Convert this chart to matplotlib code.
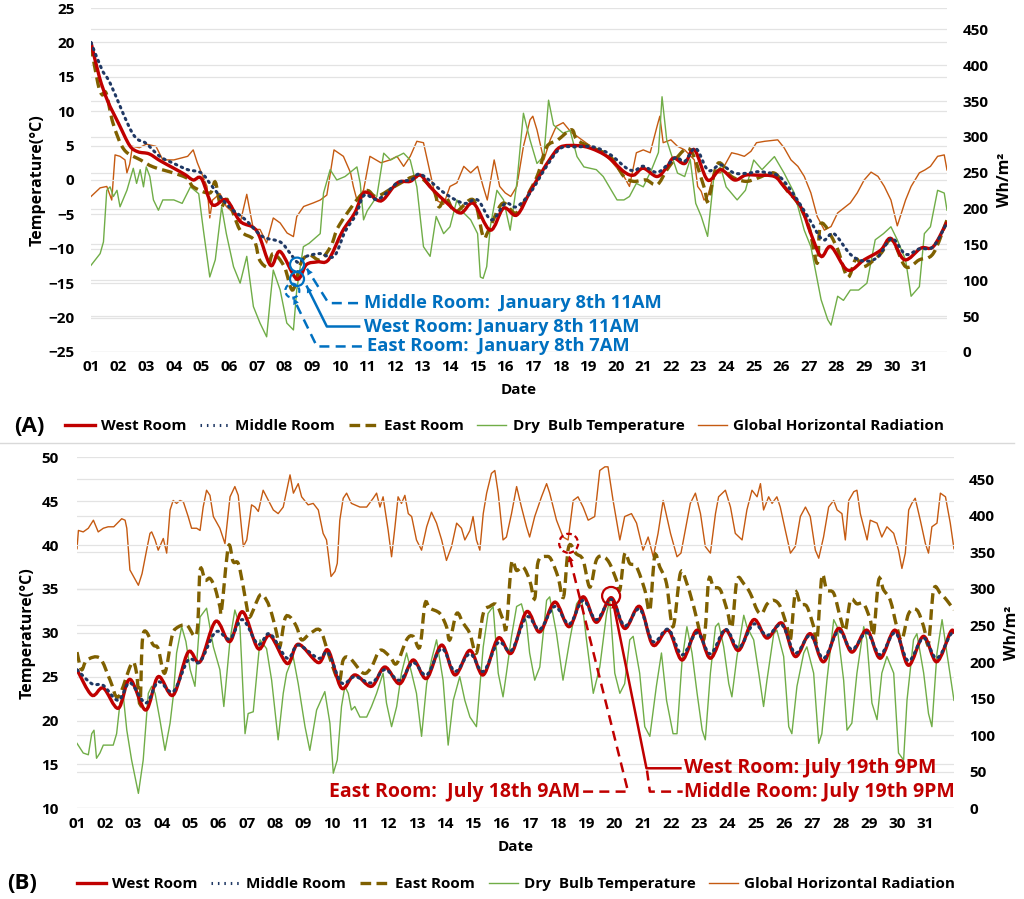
import numpy as np
import matplotlib
matplotlib.use("Agg")
import matplotlib.pyplot as plt
from matplotlib.path import Path
from matplotlib.patches import PathPatch, Circle
from matplotlib.lines import Line2D
from matplotlib.transforms import ScaledTranslation

plt.rcParams['font.family'] = ['Open Sans', 'DejaVu Sans']
plt.rcParams['font.weight'] = 'bold'
plt.rcParams['axes.labelweight'] = 'bold'

# ---- January (A): (day, value), day 0 = start of the 1st
jan_west = np.array([
    (0, 20), (0.3, 15), (0.6, 11.5), (1.0, 8.2), (1.4, 5), (1.7, 4.1), (2.1, 3.8), (2.5, 2.8),
    (3.0, 1.7), (3.4, 0.8), (3.7, 0.0), (4.0, 0.2), (4.4, -3.6), (4.9, -2.9), (5.4, -6.0),
    (6.0, -7.4), (6.5, -12.4), (6.85, -10.4), (7.45, -14.4), (7.8, -12.3), (8.2, -11.9),
    (8.6, -11.6), (9.1, -7.5), (9.55, -4.8), (9.9, -1.8), (10.35, -2.9), (10.6, -2.8),
    (11.1, -0.4), (11.56, -0.2), (11.92, 0.7), (12.28, -1.0), (12.77, -2.9), (13.37, -4.8),
    (13.85, -3.4), (14.46, -7.3), (14.94, -4.1), (15.42, -5.1), (15.9, -1.7), (16.3, 1.0),
    (16.65, 3.2), (17.0, 4.8), (17.6, 5.0), (18.1, 4.6), (18.7, 3.4), (19.3, 1.2), (19.65, 0.7),
    (20.0, 1.7), (20.5, 0.5), (20.86, 1.9), (21.1, 3.2), (21.5, 2.4), (21.85, 4.4), (22.33, 0),
    (22.8, 1.5), (23.3, 0), (23.7, 0.7), (24.1, 0.7), (24.75, 0.5), (25.1, -1), (25.7, -3.9),
    (26.07, -7.8), (26.44, -11.1), (26.8, -9.7), (27.4, -13.1), (28.0, -11.6), (28.6, -10.2),
    (28.97, -8.5), (29.46, -11.6), (30.06, -9.9), (30.5, -9.7), (31.0, -6.1)])

jan_middle = np.array([
    (0, 20), (0.4, 16), (0.7, 14), (1.5, 6.8), (2.0, 5.3), (2.5, 3.4), (3.0, 2.4), (3.5, 1.5),
    (4.0, 1.0), (4.4, -1.0), (5.0, -3.9), (5.6, -5.8), (6.2, -8.2), (6.85, -9.0), (7.2, -10.6),
    (7.5, -12.0), (7.8, -11.1), (8.3, -10.7), (8.8, -11.1), (9.2, -7.5), (9.6, -5), (9.9, -2.2),
    (10.4, -2.8), (11.1, -0.4), (11.6, 0), (11.95, 0.8), (12.8, -1.9), (13.5, -3.4), (14.0, -2.9),
    (14.5, -5.8), (15.0, -3.4), (15.4, -3.9), (15.9, -1.9), (16.5, 2), (17.0, 4.6), (17.6, 4.8),
    (18.2, 4.8), (18.8, 3.7), (19.4, 1.7), (19.7, 1.4), (20.0, 2.0), (20.5, 1.1), (20.9, 2.3),
    (21.2, 3.3), (21.5, 2.7), (21.9, 4.6), (22.35, 1.4), (22.8, 2.2), (23.3, 1.0), (23.8, 1.0),
    (24.2, 1.2), (24.8, 0.8), (25.1, -0.2), (25.5, -2.4), (26.0, -5.6), (26.5, -8.7), (26.9, -7.8),
    (27.5, -10.8), (28.0, -11.8), (28.5, -11.2), (29.0, -8.5), (29.5, -10.8), (30.0, -10.0),
    (30.5, -9.7), (31.0, -6.2)])

jan_east = np.array([
    (0, 19.5), (0.25, 14), (0.4, 12.4), (0.55, 12.6), (0.8, 8.2), (1.2, 4.4), (1.8, 2.9),
    (2.25, 1.9), (3.0, 1.0), (3.5, 0.2), (3.7, -1.0), (4.3, -1.9), (4.5, -0.3), (4.7, -3.9),
    (4.95, -2.9), (5.4, -7.3), (5.9, -8.7), (6.1, -11.6), (6.4, -12.6), (6.6, -10.7), (7.0, -12.6),
    (7.3, -16.0), (7.6, -12.1), (7.9, -10.9), (8.3, -11.6), (8.7, -9.5), (9.0, -6.5), (9.9, -1.7),
    (10.35, -2.4), (11.1, -0.7), (11.8, 0.5), (12.4, -1.5), (12.6, -3.9), (12.85, -2.5),
    (13.2, -4.6), (13.85, -2.9), (14.2, -8.2), (14.4, -7.3), (14.9, -3.4), (15.4, -4.8),
    (15.9, -1.5), (16.2, 1.0), (16.5, 4.8), (16.9, 5.8), (17.4, 7.3), (17.6, 5.8), (18.1, 4.8),
    (18.8, 3.4), (19.3, 0.5), (19.65, -0.2), (20.1, 0), (20.5, -0.7), (20.86, 1.5), (21.2, 3.2),
    (21.7, 4.4), (22.2, -1.0), (22.35, -3.0), (22.7, 2.4), (23.2, 0.5), (23.7, -0.2), (24.1, 0.2),
    (24.75, 1.0), (25.2, -1.5), (25.6, -3.4), (26.0, -6.8), (26.3, -12.1), (26.44, -6.3),
    (27.0, -9.7), (27.4, -14.1), (27.7, -11.5), (28.0, -12.6), (28.6, -10.7), (29.0, -8.7),
    (29.5, -12.6), (30.0, -11.6), (30.5, -10.7), (31.0, -5.8)])

jan_dry = np.array([
    (0, -12.4), (0.33, -10.7), (0.45, -9), (0.57, -1.5), (0.69, -1.0), (0.81, -2.4), (0.94, -1.5),
    (1.05, -3.9), (1.3, -1.5), (1.53, 1.7), (1.65, -0.5), (1.78, 1.5), (1.9, -1.0), (2.0, 1.9),
    (2.13, 0.5), (2.26, -2.9), (2.44, -4.4), (2.6, -2.9), (3.0, -2.9), (3.3, -3.4), (3.6, -1.0),
    (3.9, -2.0), (4.07, -7.3), (4.3, -14.1), (4.5, -11.6), (4.73, -3.9), (4.9, -7.8), (5.16, -12.6),
    (5.4, -15.0), (5.64, -11.1), (5.88, -18.4), (6.12, -20.8), (6.36, -22.8), (6.49, -17.4),
    (6.6, -13.1), (6.85, -16.0), (6.97, -18.4), (7.09, -20.8), (7.33, -21.8), (7.45, -16.0),
    (7.69, -9.7), (7.9, -9.2), (8.3, -7.8), (8.42, -1.9), (8.66, 1.5), (8.9, 0), (9.2, 0.5),
    (9.63, 1.9), (9.75, -0.5), (9.87, -5.8), (10.0, -4.5), (10.35, -2.4), (10.6, 3.9), (10.85, 2.9),
    (11.08, 3.4), (11.32, 3.9), (11.56, 2.9), (11.8, -1.0), (12.04, -9.7), (12.28, -11.1),
    (12.5, -5.3), (12.77, -7.8), (13.0, -6.8), (13.25, -2.9), (13.5, -4.8), (13.75, -5.8),
    (14.0, -7.8), (14.1, -14.1), (14.2, -14.3), (14.33, -12.6), (14.46, -6.8), (14.7, -1.5),
    (14.94, -2.9), (15.18, -7.3), (15.42, -0.5), (15.66, 9.7), (15.9, 5.8), (16.15, 2.4),
    (16.4, 3.5), (16.57, 11.6), (16.75, 8.0), (17.1, 6.8), (17.35, 7.2), (17.6, 3.4), (17.85, 1.9),
    (18.3, 1.5), (18.55, 0.5), (19.05, -2.9), (19.3, -2.9), (19.5, -2.4), (19.75, -0.5),
    (20.0, -1.0), (20.3, 1.5), (20.55, 4.0), (20.68, 12.1), (20.85, 5.8), (21.0, 3.9), (21.24, 1.0),
    (21.5, 0.5), (21.7, 3.0), (21.9, -3.4), (22.1, -5.3), (22.33, -8.2), (22.57, 1.0), (22.8, 1.9),
    (23.0, -1.0), (23.4, -2.9), (23.7, -1.5), (24.0, 2.9), (24.3, 1.5), (24.75, 3.4), (25.1, 1.0),
    (25.47, -1.9), (25.83, -7.3), (26.07, -9.7), (26.44, -17.4), (26.68, -20.3), (26.8, -21.1),
    (27.04, -16.9), (27.25, -17.5), (27.5, -16.0), (27.8, -16.0), (28.1, -15.0), (28.4, -8.7),
    (28.7, -7.8), (28.97, -6.8), (29.2, -8.7), (29.5, -11.6), (29.7, -16.9), (30.0, -15.5),
    (30.18, -7.8), (30.4, -6.8), (30.66, -1.5), (30.9, -1.9), (31.0, -4.4)])

jan_rad = np.array([
    (0, 217), (0.33, 229), (0.57, 231), (0.75, 212), (0.87, 275), (1.05, 273), (1.23, 268),
    (1.3, 250), (1.4, 262), (1.5, 287), (1.75, 285), (2.0, 290), (2.35, 287), (2.6, 268), (3.0, 268),
    (3.5, 273), (3.7, 282), (3.85, 264), (4.0, 250), (4.2, 231), (4.3, 187), (4.4, 212), (4.67, 221),
    (4.9, 203), (5.16, 194), (5.4, 180), (5.64, 220), (5.88, 171), (6.12, 171), (6.36, 152),
    (6.6, 187), (6.85, 180), (7.1, 166), (7.33, 161), (7.45, 189), (7.7, 203), (8.05, 208),
    (8.3, 212), (8.54, 219), (8.8, 282), (9.14, 273), (9.4, 250), (9.5, 231), (9.63, 212),
    (9.87, 226), (10.1, 273), (10.5, 264), (10.83, 268), (11.08, 273), (11.32, 259), (11.56, 273),
    (11.8, 294), (12.04, 292), (12.28, 250), (12.5, 212), (12.77, 206), (13.0, 231), (13.25, 236),
    (13.5, 259), (13.75, 250), (14.0, 259), (14.2, 231), (14.35, 212), (14.6, 268), (14.8, 231),
    (15.0, 222), (15.2, 217), (15.42, 231), (15.66, 287), (15.9, 324), (16.0, 329), (16.15, 310),
    (16.4, 268), (16.63, 296), (16.85, 315), (17.1, 320), (17.4, 306), (17.6, 301), (18.1, 287),
    (18.35, 282), (18.8, 268), (19.3, 245), (19.5, 231), (19.75, 278), (20.0, 282), (20.25, 278),
    (20.5, 315), (20.6, 329), (20.72, 292), (21.0, 296), (21.24, 287), (21.5, 282), (21.85, 268),
    (21.97, 231), (22.1, 224), (22.2, 212), (22.33, 217), (22.57, 250), (22.8, 250), (23.2, 278),
    (23.42, 276), (23.66, 273), (23.9, 280), (24.1, 292), (24.4, 294), (24.87, 296), (25.1, 285),
    (25.35, 268), (25.6, 259), (25.83, 245), (26.07, 222), (26.3, 189), (26.56, 170), (26.8, 175),
    (27.04, 194), (27.5, 208), (27.75, 222), (28.0, 240), (28.25, 251), (28.5, 245), (28.73, 231),
    (28.97, 212), (29.2, 176), (29.35, 194), (29.5, 212), (29.7, 231), (30.0, 250), (30.2, 254),
    (30.4, 259), (30.66, 273), (30.9, 275), (31.0, 254)])

# ---- July (B)
jul_room_day = [0, 0.52, 0.93, 1.46, 1.87, 2.43, 2.87, 3.4, 3.93, 4.35, 4.9, 5.4, 5.85, 6.4, 6.82,
                7.43, 7.82, 8.53, 8.88, 9.35, 9.82, 10.41, 10.88, 11.41, 11.88, 12.36, 12.89, 13.36,
                13.89, 14.36, 14.89, 15.36, 15.89, 16.36, 16.89, 17.4, 17.89, 18.36, 18.89, 19.36,
                19.89, 20.36, 20.9, 21.39, 21.92, 22.39, 22.92, 23.39, 23.92, 24.39, 24.92, 25.39,
                25.92, 26.39, 26.92, 27.39, 27.92, 28.39, 28.92, 29.39, 29.92, 30.39, 30.88, 31.0]
jul_west = [25.8, 22.9, 23.7, 21.4, 24.7, 21.2, 25.0, 22.9, 27.8, 26.7, 31.3, 29.0, 32.4, 28.2,
            29.7, 26.5, 28.7, 26.6, 28.0, 23.7, 25.2, 23.9, 26.1, 24.2, 26.9, 24.8, 28.6, 25.2,
            28.0, 25.2, 29.4, 27.7, 32.4, 30.1, 33.5, 30.7, 34.1, 31.2, 34.0, 30.5, 33.0, 28.6,
            30.3, 26.9, 30.3, 27.1, 30.3, 28.0, 31.5, 29.4, 31.1, 27.3, 29.9, 26.7, 30.5, 27.8,
            30.3, 27.1, 30.3, 26.3, 29.6, 26.7, 30.1, 29.9]
jul_middle = [25.8, 24.2, 24.0, 22.3, 24.3, 22.0, 24.4, 23.3, 26.9, 26.7, 30.1, 29.3, 31.5, 28.7,
              29.9, 27.1, 28.6, 27.1, 27.7, 24.3, 25.0, 24.3, 25.8, 24.6, 26.6, 25.2, 28.2, 25.6,
              27.6, 25.6, 28.9, 28.0, 31.8, 30.4, 33.0, 31.0, 33.7, 31.5, 33.8, 30.8, 32.7, 29.0,
              30.4, 27.5, 30.0, 27.6, 30.4, 28.3, 31.0, 29.7, 30.9, 27.7, 29.7, 27.1, 30.2, 28.1,
              30.0, 27.5, 30.0, 26.8, 29.4, 27.1, 29.8, 29.8]

jul_east = np.array([
    (0, 27.8), (0.16, 25.8), (0.35, 26.9), (0.81, 27.1), (1.17, 24.6), (1.46, 22.7), (1.93, 26.5),
    (2.1, 25.5), (2.23, 22.0), (2.34, 29.9), (2.7, 28.6), (2.87, 28.2), (3.1, 25.4), (3.35, 29.5),
    (3.5, 30.5), (3.87, 30.9), (4.23, 29.9), (4.35, 37.1), (4.53, 36.0), (4.7, 36.2), (4.88, 35.1),
    (5.05, 33.0), (5.11, 32.6), (5.35, 39.8), (5.52, 38.1), (5.7, 37.9), (5.88, 35.2), (6.0, 33.0),
    (6.11, 31.8), (6.47, 34.3), (6.7, 33.7), (6.88, 32.2), (7.06, 29.9), (7.17, 28.4), (7.35, 31.6),
    (7.53, 31.8), (7.76, 30.7), (7.94, 29.2), (8.23, 29.9), (8.59, 30.3), (8.88, 27.7), (9.12, 25.4),
    (9.29, 24.6), (9.41, 26.9), (9.65, 27.1), (10.12, 25.4), (10.41, 26.1), (10.71, 28.0),
    (11.06, 27.3), (11.3, 26.5), (11.65, 29.2), (11.88, 29.6), (12.12, 28.4), (12.3, 33.3),
    (12.47, 32.8), (12.83, 32.2), (13.06, 30.7), (13.18, 29.2), (13.42, 32.2), (13.65, 31.1),
    (13.89, 29.9), (14.12, 27.7), (14.36, 32.2), (14.59, 33.0), (14.83, 33.2), (15.06, 31.5),
    (15.18, 30.7), (15.36, 37.9), (15.54, 37.1), (15.77, 37.5), (16.0, 36.0), (16.18, 33.9),
    (16.3, 38.1), (16.6, 38.7), (16.77, 38.3), (17.0, 36.4), (17.2, 34.1), (17.38, 39.8),
    (17.65, 39.0), (17.89, 38.3), (18.13, 35.2), (18.36, 38.3), (18.6, 38.7), (18.83, 37.9),
    (19.07, 36.0), (19.19, 34.9), (19.36, 39.0), (19.54, 37.9), (19.78, 37.5), (20.07, 34.9),
    (20.25, 32.6), (20.42, 38.7), (20.6, 37.5), (20.84, 35.6), (21.07, 30.7), (21.33, 36.8),
    (21.56, 35.6), (21.8, 33.0), (22.15, 29.2), (22.33, 36.0), (22.5, 35.2), (22.74, 34.9),
    (22.98, 32.6), (23.15, 30.7), (23.33, 36.0), (23.57, 35.6), (23.8, 34.5), (24.04, 32.6),
    (24.21, 32.2), (24.4, 33.3), (24.63, 33.7), (24.86, 33.0), (25.1, 30.7), (25.22, 29.2),
    (25.39, 34.5), (25.57, 33.3), (25.8, 33.0), (26.04, 30.7), (26.16, 29.2), (26.33, 36.4),
    (26.5, 34.9), (26.75, 34.5), (26.98, 31.8), (27.16, 30.3), (27.34, 33.7), (27.57, 33.3),
    (27.81, 33.3), (28.04, 31.5), (28.16, 29.9), (28.34, 36.0), (28.51, 34.9), (28.75, 33.7),
    (28.98, 30.7), (29.16, 29.2), (29.4, 32.2), (29.69, 32.6), (29.93, 30.7), (30.1, 28.8),
    (30.28, 34.9), (30.52, 34.5), (30.75, 33.7), (31.0, 32.6)])

jul_dry = np.array([
    (0, 17.4), (0.22, 16.3), (0.4, 16.1), (0.52, 18.5), (0.6, 18.9), (0.69, 15.7), (0.81, 16.3),
    (0.93, 17.2), (1.28, 17.2), (1.4, 18.5), (1.52, 22.0), (1.64, 22.7), (1.76, 18.9), (1.93, 15.5),
    (2.17, 11.7), (2.34, 15.5), (2.52, 23.1), (2.64, 23.9), (2.76, 23.1), (2.93, 20.1), (3.11, 16.6),
    (3.29, 19.7), (3.4, 22.7), (3.52, 27.7), (3.7, 30.7), (3.85, 29.0), (4.0, 25.8), (4.17, 23.9),
    (4.35, 31.8), (4.58, 32.8), (4.82, 28.4), (5.05, 25.8), (5.19, 21.6), (5.41, 29.2), (5.58, 32.6),
    (5.76, 30.7), (5.94, 18.5), (6.05, 20.8), (6.23, 21.0), (6.47, 29.2), (6.7, 28.2), (6.88, 24.6),
    (7.11, 17.8), (7.29, 23.1), (7.41, 25.4), (7.64, 27.3), (7.82, 24.2), (8.06, 19.3), (8.23, 16.6),
    (8.47, 21.2), (8.76, 23.3), (8.94, 19.7), (9.06, 14.0), (9.2, 15.5), (9.35, 21.6), (9.47, 23.9),
    (9.59, 23.1), (9.7, 21.2), (9.82, 21.6), (10.0, 20.4), (10.24, 20.4), (10.41, 21.6),
    (10.59, 23.1), (10.82, 25.4), (10.94, 22.0), (11.12, 19.3), (11.3, 21.6), (11.47, 25.4),
    (11.65, 27.7), (11.83, 25.4), (12.0, 23.1), (12.18, 18.2), (12.36, 24.2), (12.53, 26.9),
    (12.71, 29.2), (12.94, 24.6), (13.12, 17.2), (13.3, 22.3), (13.53, 25.0), (13.71, 22.3),
    (13.89, 20.4), (14.12, 19.3), (14.36, 28.4), (14.53, 32.2), (14.71, 33.0), (14.89, 25.4),
    (15.06, 22.7), (15.18, 25.4), (15.36, 29.6), (15.54, 33.0), (15.71, 33.3), (15.89, 31.1),
    (16.0, 27.7), (16.18, 24.6), (16.36, 26.1), (16.6, 33.7), (16.71, 34.1), (16.95, 29.9),
    (17.18, 24.6), (17.42, 29.2), (17.66, 33.3), (17.83, 34.1), (18.01, 29.2), (18.25, 23.1),
    (18.48, 26.1), (18.72, 32.2), (18.83, 33.7), (19.01, 25.4), (19.19, 23.1), (19.36, 24.2),
    (19.54, 29.2), (19.66, 29.6), (19.89, 25.4), (20.07, 19.3), (20.25, 18.2), (20.48, 23.9),
    (20.66, 27.7), (20.84, 22.3), (21.07, 18.5), (21.21, 18.5), (21.39, 26.9), (21.56, 30.7),
    (21.74, 27.7), (21.92, 23.1), (22.1, 18.9), (22.21, 17.8), (22.39, 25.4), (22.57, 30.7),
    (22.68, 31.1), (22.86, 28.4), (23.04, 24.2), (23.15, 22.7), (23.33, 27.3), (23.57, 32.0),
    (23.68, 30.7), (23.92, 29.2), (24.1, 25.4), (24.27, 21.6), (24.39, 24.6), (24.63, 29.9),
    (24.74, 30.3), (24.98, 27.3), (25.16, 19.3), (25.27, 18.5), (25.45, 23.9), (25.69, 27.7),
    (25.8, 28.4), (26.04, 25.4), (26.22, 17.4), (26.33, 18.5), (26.51, 24.6), (26.75, 31.5),
    (26.87, 30.7), (27.1, 24.6), (27.22, 18.9), (27.39, 19.7), (27.57, 25.4), (27.81, 30.7),
    (27.92, 29.2), (28.1, 22.0), (28.28, 20.1), (28.45, 25.4), (28.63, 27.3), (28.87, 25.4),
    (29.04, 16.3), (29.22, 15.5), (29.34, 22.3), (29.57, 29.2), (29.69, 29.9), (29.93, 25.4),
    (30.1, 20.8), (30.22, 19.3), (30.4, 27.7), (30.58, 31.5), (30.75, 27.7), (31.0, 22.3)])

jul_rad = np.array([
    (0, 355), (0.05, 380), (0.22, 378), (0.4, 383), (0.58, 394), (0.75, 378), (0.93, 383),
    (1.1, 385), (1.3, 385), (1.58, 396), (1.7, 394), (1.76, 383), (1.87, 326), (2.0, 317),
    (2.17, 305), (2.3, 321), (2.46, 353), (2.58, 376), (2.64, 378), (2.76, 367), (2.87, 353),
    (3.05, 369), (3.17, 349), (3.29, 408), (3.4, 421), (3.52, 417), (3.64, 421), (3.76, 419),
    (3.93, 399), (4.05, 383), (4.23, 383), (4.35, 380), (4.46, 412), (4.58, 435), (4.7, 428),
    (4.82, 399), (5.05, 383), (5.23, 362), (5.41, 426), (5.58, 440), (5.7, 428), (5.88, 358),
    (6.0, 367), (6.17, 415), (6.29, 412), (6.41, 406), (6.58, 435), (6.7, 426), (6.94, 408),
    (7.11, 403), (7.29, 412), (7.53, 456), (7.65, 431), (7.82, 444), (7.94, 426), (8.17, 415),
    (8.35, 417), (8.53, 408), (8.7, 376), (8.82, 367), (8.98, 317), (9.12, 324), (9.2, 335),
    (9.29, 394), (9.41, 424), (9.53, 431), (9.7, 417), (10.0, 412), (10.24, 412), (10.47, 424),
    (10.59, 431), (10.71, 412), (10.82, 426), (11.0, 380), (11.12, 344), (11.24, 385), (11.35, 426),
    (11.47, 417), (11.59, 428), (11.71, 403), (11.83, 399), (12.0, 367), (12.18, 353), (12.36, 385),
    (12.53, 405), (12.71, 390), (12.89, 367), (13.06, 339), (13.24, 358), (13.42, 390), (13.59, 383),
    (13.71, 367), (13.89, 380), (14.0, 399), (14.12, 367), (14.24, 353), (14.36, 403), (14.48, 431),
    (14.65, 458), (14.77, 462), (14.89, 431), (15.06, 367), (15.18, 371), (15.36, 403), (15.54, 440),
    (15.71, 412), (15.89, 385), (16.0, 371), (16.18, 399), (16.42, 426), (16.6, 444), (16.71, 431),
    (16.95, 394), (17.18, 371), (17.36, 367), (17.54, 421), (17.71, 426), (17.89, 412), (18.07, 394),
    (18.3, 399), (18.48, 462), (18.66, 467), (18.77, 467), (18.95, 421), (19.19, 367), (19.36, 399),
    (19.6, 403), (19.78, 390), (20.01, 353), (20.19, 371), (20.37, 344), (20.54, 376), (20.72, 421),
    (20.98, 376), (21.21, 344), (21.35, 349), (21.5, 380), (21.68, 417), (21.86, 431), (22.04, 403),
    (22.21, 358), (22.39, 349), (22.57, 403), (22.68, 426), (22.92, 435), (23.1, 412), (23.27, 376),
    (23.51, 367), (23.68, 408), (23.86, 435), (24.04, 426), (24.16, 444), (24.27, 408), (24.45, 426),
    (24.57, 417), (24.74, 426), (24.86, 412), (25.04, 380), (25.22, 349), (25.39, 358), (25.57, 399),
    (25.75, 412), (25.92, 399), (26.1, 353), (26.22, 342), (26.39, 371), (26.57, 412), (26.75, 421),
    (26.87, 408), (27.04, 403), (27.16, 367), (27.28, 421), (27.46, 433), (27.57, 435), (27.69, 403),
    (27.93, 367), (28.04, 394), (28.28, 390), (28.45, 371), (28.63, 385), (28.87, 376), (29.04, 353),
    (29.16, 328), (29.28, 349), (29.4, 408), (29.51, 417), (29.63, 424), (29.81, 394), (29.99, 362),
    (30.1, 349), (30.22, 385), (30.4, 390), (30.52, 431), (30.7, 426), (30.87, 390), (31.0, 355)])

day_labels = [f"{d:02d}" for d in range(1, 32)]
series_names = ["West Room", "Middle Room", "East Room", "Dry  Bulb Temperature",
                "Global Horizontal Radiation"]

RED, NAVY, OLIVE, GREEN, BROWN = "#C00000", "#1F3864", "#7F6000", "#70AD47", "#C55A11"
BLUE = "#0070C0"
GRID = "#E3E3E3"

STYLE = {
    "West Room": dict(color=RED, lw=2.4, ls="-"),
    "Middle Room": dict(color=NAVY, lw=2.2, ls=(0, (0.5, 1.6))),
    "East Room": dict(color=OLIVE, lw=2.4, ls=(0, (3.2, 1.6))),
    "Dry  Bulb Temperature": dict(color=GREEN, lw=1.0, ls="-"),
    "Global Horizontal Radiation": dict(color=BROWN, lw=1.0, ls="-"),
}


def smooth_line(ax, x, y, color, lw, ls, z=3):
    """Smoothed line (like Excel's smoothed line option) through the given points."""
    p = np.column_stack([x, y]).astype(float)
    pad = np.vstack([p[0], p, p[-1]])
    verts, codes = [p[0]], [Path.MOVETO]
    for i in range(len(p) - 1):
        p0, p1, p2, p3 = pad[i], pad[i + 1], pad[i + 2], pad[i + 3]
        verts += [p1 + (p2 - p0) / 6, p2 - (p3 - p1) / 6, p2]
        codes += [Path.CURVE4] * 3
    cap = "round" if ls != "-" and ls[1][0] < 1 else "butt"
    ax.add_patch(PathPatch(Path(verts, codes), fill=False, edgecolor=color, lw=lw,
                           linestyle=ls, capstyle=cap, zorder=z))


def setup(ax, ax2, ylim, yticks, lpad, rpad, xpad, date_pad, temp_pad):
    ax.set_xlim(0, 31)
    ax.set_ylim(*ylim)
    ax2.set_ylim(0, 480)
    ax.set_xticks(range(31))
    ax.set_xticklabels(day_labels)
    ax.set_yticks(yticks)
    ax2.set_yticks(range(0, 451, 50))
    for a in (ax, ax2):
        for s in a.spines.values():
            s.set_visible(False)
        a.grid(axis="y", color=GRID, lw=0.9)
    ax.tick_params(axis="y", length=0, labelsize=11, pad=lpad)
    ax.tick_params(axis="x", length=0, labelsize=11, pad=xpad)
    ax2.tick_params(axis="y", length=0, labelsize=11, pad=rpad)
    ax.set_xlabel("Date", fontsize=11, labelpad=date_pad)
    ax.set_ylabel("Temperature(°C)", fontsize=11.5, labelpad=temp_pad)
    ax2.set_ylabel("Wh/m²", fontsize=11.5, labelpad=6)
    ax.set_zorder(ax2.get_zorder() + 1)
    ax.patch.set_visible(False)


def draw_panel(ax, ax2, west, middle, east, dry, rad):
    smooth_line(ax, west[0], west[1], **STYLE["West Room"], z=4)
    smooth_line(ax, middle[0], middle[1], **STYLE["Middle Room"], z=5)
    smooth_line(ax, east[0], east[1], **STYLE["East Room"], z=3)
    ax.plot(dry[:, 0], dry[:, 1], zorder=2, **STYLE["Dry  Bulb Temperature"])
    ax2.plot(rad[:, 0], rad[:, 1], zorder=2, **STYLE["Global Horizontal Radiation"])


def ring(fig, ax, x, y, r_px, color, ls):
    trans = fig.dpi_scale_trans + ScaledTranslation(x, y, ax.transData)
    ax.add_patch(Circle((0, 0), r_px / fig.dpi, transform=trans, fill=False, ec=color,
                        lw=1.6, ls=ls, zorder=8, clip_on=False))


def pointer(ax, path, color, ls, text, text_xy, size, ha="left"):
    xs, ys = zip(*path)
    ax.plot(xs, ys, color=color, lw=1.8, ls=ls, zorder=8, dash_capstyle="butt")
    ax.annotate("", xy=path[-1], xytext=path[-2],
                arrowprops=dict(arrowstyle="-|>", color=color, lw=0, mutation_scale=11,
                                shrinkA=0, shrinkB=0, linestyle="-"),
                zorder=9)
    if text:
        ax.text(*text_xy, text, color=color, fontsize=size, ha=ha, va="center", zorder=9)


fig = plt.figure(figsize=(10.24, 8.99), dpi=100)

# ---------- (A) January
axA = fig.add_axes([0.0889, 0.6085, 0.8359, 0.3826])
axA2 = axA.twinx()
setup(axA, axA2, (-25, 25), range(-25, 26, 5), 12, 11, 6, 6, 2)
draw_panel(axA, axA2, jan_west.T, jan_middle.T, jan_east.T, jan_dry, jan_rad)

jan_peaks = {"Middle Room": (7.46, -12.3), "West Room": (7.46, -14.4), "East Room": (7.29, -16.1)}
ring(fig, axA, *jan_peaks["Middle Room"], 7, BLUE, "-")
ring(fig, axA, *jan_peaks["West Room"], 7, BLUE, "-")
ring(fig, axA, *jan_peaks["East Room"], 7, BLUE, (0, (2.5, 1.5)))
pointer(axA, [(9.67, -17.9), (8.60, -17.9), (7.82, -12.9)], BLUE, (0, (4, 2.5)),
        "Middle Room:  January 8th 11AM", (9.9, -17.9), 13.2)
pointer(axA, [(9.71, -21.3), (8.54, -21.3), (7.82, -15.5)], BLUE, "-",
        "West Room: January 8th 11AM", (9.9, -21.3), 13.2)
pointer(axA, [(9.81, -24.2), (8.18, -24.2), (7.33, -17.2)], BLUE, (0, (4, 2.5)),
        "East Room:  January 8th 7AM", (10.0, -24.2), 13.2)

# ---------- (B) July
axB = fig.add_axes([0.0752, 0.1009, 0.8564, 0.3904])
axB2 = axB.twinx()
setup(axB, axB2, (10, 50), range(10, 51, 5), 13, 11, 6, 7, 4)
draw_panel(axB, axB2, (jul_room_day, jul_west), (jul_room_day, jul_middle), jul_east.T,
           jul_dry, jul_rad)

jul_peaks = {"East Room": (17.38, 40.2), "West Room": (18.88, 34.2)}
ring(fig, axB, *jul_peaks["East Room"], 9.5, RED, (0, (2.5, 1.5)))
ring(fig, axB, *jul_peaks["West Room"], 9, RED, "-")
pointer(axB, [(17.89, 11.9), (19.48, 11.9), (17.40, 38.8)], RED, (0, (4, 2.5)),
        "East Room:  July 18th 9AM", (17.78, 11.9), 14, ha="right")
pointer(axB, [(21.33, 14.56), (20.13, 14.56), (18.95, 33.5)], RED, "-",
        "West Room: July 19th 9PM", (21.45, 14.56), 14)
axB.plot([20.15, 20.25, 21.41], [14.3, 11.9, 11.9], color=RED, lw=1.8, ls=(0, (4, 2.5)), zorder=8)
axB.text(21.45, 11.9, "Middle Room: July 19th 9PM", color=RED, fontsize=14, va="center", zorder=9)

# ---------- legends
handles = [Line2D([], [], **STYLE[n]) for n in series_names]
for y, x0 in [(0.526, 0.493), (0.0167, 0.504)]:
    fig.legend(handles, series_names, loc="center", bbox_to_anchor=(x0, y), ncol=5,
               frameon=False, fontsize=11, handlelength=1.9, handletextpad=0.4,
               columnspacing=0.9)
fig.text(0.014, 0.526, "(A)", fontsize=16, va="center")
fig.text(0.007, 0.0167, "(B)", fontsize=16, va="center")
fig.add_artist(Line2D([0.0, 0.99], [0.507, 0.507], color="#D9D9D9", lw=1.0))

fig.savefig("out.png", dpi=100)
